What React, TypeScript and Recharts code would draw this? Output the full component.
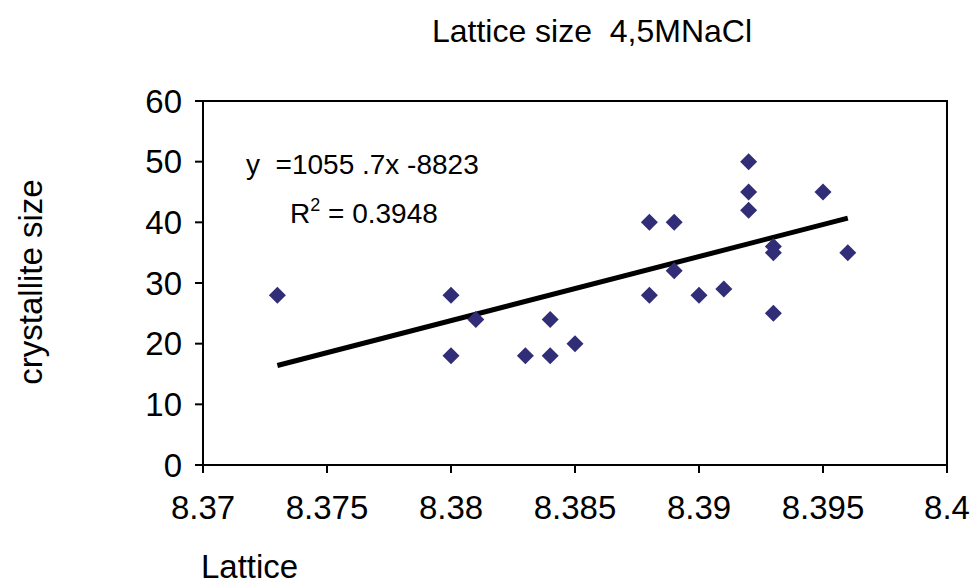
import {
  ScatterChart,
  Scatter,
  XAxis,
  YAxis,
  ReferenceLine,
  ReferenceArea,
} from "recharts";

// lattice parameter vs crystallite size, 4.5 M NaCl
const lattice = [
  8.373, 8.38, 8.38, 8.381, 8.383, 8.384, 8.384, 8.385, 8.388, 8.388, 8.389,
  8.389, 8.39, 8.391, 8.392, 8.392, 8.392, 8.393, 8.393, 8.393, 8.395, 8.396,
];
const crystallite = [
  28, 28, 18, 24, 18, 18, 24, 20, 40, 28, 40, 32, 28, 29, 50, 45, 42, 36, 35,
  25, 45, 35,
];
const xTicks = [8.37, 8.375, 8.38, 8.385, 8.39, 8.395, 8.4];
const yTicks = [0, 10, 20, 30, 40, 50, 60];

// linear trend endpoints (y = 1055.7x - 8823)
const fitX = [8.373, 8.396];
const fitY = [16.4, 40.7];

const points = lattice.map((x, i) => ({ x, y: crystallite[i] }));

const FONT = '"Liberation Sans", Arial, sans-serif';
const MARKER = "#312d76";

const Diamond = (props: any) => {
  const { cx, cy } = props;
  const r = 8.5;
  return (
    <polygon
      points={`${cx},${cy - r} ${cx + r},${cy} ${cx},${cy + r} ${cx - r},${cy}`}
      fill={MARKER}
    />
  );
};

const tickStyle = { fill: "#000", fontSize: 33, fontFamily: FONT };

export default function App() {
  return (
    <div
      style={{
        position: "absolute",
        top: 0,
        left: 0,
        width: 974,
        height: 586,
        background: "#fff",
      }}
    >
      <ScatterChart
        width={974}
        height={586}
        margin={{ top: 101, right: 27, bottom: 0, left: 0 }}
      >
        <XAxis
          type="number"
          dataKey="x"
          domain={[8.37, 8.4]}
          ticks={xTicks}
          tickFormatter={(v: number) => String(+v.toFixed(3))}
          height={121}
          tickSize={8}
          tickMargin={23}
          tick={tickStyle}
          axisLine={{ stroke: "#000", strokeWidth: 2 }}
          tickLine={{ stroke: "#000", strokeWidth: 2 }}
          interval={0}
        />
        <YAxis
          type="number"
          dataKey="y"
          domain={[0, 60]}
          ticks={yTicks}
          width={203}
          tickSize={8}
          tickMargin={13}
          tick={tickStyle}
          axisLine={{ stroke: "#000", strokeWidth: 2 }}
          tickLine={{ stroke: "#000", strokeWidth: 2 }}
          interval={0}
        />
        <ReferenceArea
          x1={8.37}
          x2={8.4}
          y1={0}
          y2={60}
          fill="none"
          stroke="#000"
          strokeWidth={2}
          fillOpacity={0}
        />
        <Scatter
          data={points}
          shape={Diamond}
          isAnimationActive={false}
        />
        <ReferenceLine
          segment={[
            { x: fitX[0], y: fitY[0] },
            { x: fitX[1], y: fitY[1] },
          ]}
          stroke="#000"
          strokeWidth={5}
        />
      </ScatterChart>
      <svg
        width={974}
        height={586}
        style={{ position: "absolute", top: 0, left: 0, pointerEvents: "none" }}
        fontFamily={FONT}
      >
        <text
          x={592}
          y={42}
          fontSize={32}
          textAnchor="middle"
          fill="#000"
          xmlSpace="preserve"
        >
          Lattice size  4,5MNaCl
        </text>
        <text x={246} y={174} fontSize={28} fill="#000" xmlSpace="preserve">
          y  =1055 .7x -8823
        </text>
        <text x={290} y={223} fontSize={28} fill="#000">
          R<tspan dy={-12} fontSize={18}>2</tspan>
          <tspan dy={12}> = 0.3948</tspan>
        </text>
        <text
          x={0}
          y={0}
          fontSize={33}
          textAnchor="middle"
          fill="#000"
          transform="translate(42 282) rotate(-90)"
        >
          crystallite size
        </text>
        <text x={201} y={578} fontSize={33} fill="#000">
          Lattice
        </text>
      </svg>
    </div>
  );
}
